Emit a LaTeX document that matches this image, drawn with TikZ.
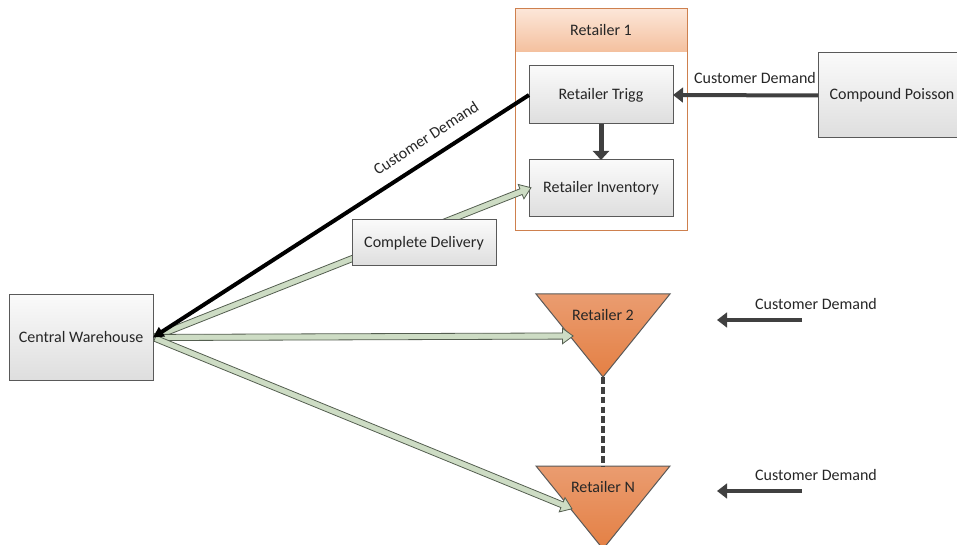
\documentclass[tikz,border=0pt]{standalone}
\usepackage{fontspec}
\setmainfont{Carlito}
\usetikzlibrary{arrows.meta,calc,shapes.arrows}

\definecolor{ink}{RGB}{38,38,38}
\definecolor{boxline}{RGB}{89,89,89}
\definecolor{boxtop}{RGB}{250,250,250}
\definecolor{boxbot}{RGB}{222,222,222}
\definecolor{dark}{RGB}{64,64,64}
\definecolor{retline}{RGB}{206,128,78}
\definecolor{hdrtop}{RGB}{252,230,216}
\definecolor{hdrbot}{RGB}{244,192,158}
\definecolor{trtop}{RGB}{234,156,112}
\definecolor{trbot}{RGB}{228,128,68}
\definecolor{delivfill}{RGB}{205,220,196}
\definecolor{delivline}{RGB}{84,94,80}

% hollow delivery arrow drawn as a rotated single-arrow shape from #1 to #2
\newcommand\delivery[2]{%
  \path let \p1=($(#2)-(#1)$), \n1={atan2(\y1,\x1)}, \n2={veclen(\x1,\y1)} in
    node[delivarrow, rotate=\n1, minimum height=\n2] at ($(#1)!0.5!(#2)$) {};}

\begin{document}
\begin{tikzpicture}[x=0.75pt,y=-0.75pt,
  font=\fontsize{12}{14}\selectfont, text=ink,
  box/.style={draw=boxline, line width=0.75pt, top color=boxtop, bottom color=boxbot,
    minimum width=108pt, inner sep=0pt, outer sep=0pt, align=center},
  flow/.style={draw=dark, line width=3pt, -{Triangle[length=7.5pt,width=11pt]}},
  retailer/.style={draw=boxline, line width=0.75pt, top color=trtop, bottom color=trbot},
  delivarrow/.style={single arrow, draw=delivline, line width=0.6pt, fill=delivfill,
    inner xsep=0pt, inner ysep=2pt, single arrow head extend=3.5pt,
    single arrow tip angle=72, outer sep=0pt},
  lbl/.style={inner sep=0pt}]

\clip (0,0) rectangle (957,545);

% Retailer 1 group
\node[top color=hdrtop, bottom color=hdrbot, minimum width=129pt, minimum height=32.25pt,
  inner sep=0pt, outer sep=0pt] (r1head) at (601,30.5) {Retailer 1};
\node[draw=retline, line width=0.75pt, minimum width=129pt, minimum height=166.5pt,
  outer sep=0pt] (r1) at (601,120) {};
\node[box, minimum height=43.5pt] (trigg) at (601,95) {Retailer Trigg};
\node[box, minimum height=42.75pt] (inv) at (601,188.5) {Retailer Inventory};
\draw[draw=dark, line width=3.75pt, -{Triangle[length=6.75pt,width=12pt]}] (trigg.south) -- (inv.north);

% demand source
\node[box, minimum width=111pt, minimum height=63.75pt] (cp) at (892,95.5) {Compound Poisson};
\draw[flow] (cp.west) -- (trigg.east);
\node[lbl] (cdp) at (755,78) {Customer Demand};

% central warehouse
\node[box, minimum height=63.75pt] (cw) at (81,337.5) {Central Warehouse};

% retailers 2 .. N
\draw[retailer] (536,294) -- (670,294) -- (603,377) coordinate (r2apex) -- cycle;
\node[lbl] (r2) at (603,315) {Retailer 2};
\draw[retailer] (536,466) coordinate (rNtl) -- (670,466) -- (603,549) -- cycle;
\node[lbl] (rN) at (603,487) {Retailer N};
\coordinate (rNtop) at (603,466);
\coordinate (r2in) at (571,336);
\coordinate (rNin) at (570,508);
\draw[draw=dark, line width=3pt, dash pattern=on 5pt off 2.4pt] (r2apex) -- (rNtop);

% demand inputs of retailers 2 .. N
\coordinate (d2s) at (802,320);
\coordinate (d2e) at (717,320);
\coordinate (dNs) at (802,491);
\coordinate (dNe) at (717,491);
\draw[flow] (d2s) -- (d2e);
\draw[flow] (dNs) -- (dNe);
\node[lbl] (cd2) at (816,304) {Customer Demand};
\node[lbl] (cdN) at (816,475) {Customer Demand};

% deliveries from the warehouse
\delivery{cw.east}{inv.west}
\delivery{cw.east}{r2in}
\delivery{cw.east}{rNin}
\node[box, minimum height=34.5pt] (cd) at (424,243) {Complete Delivery};

% orders sent to the warehouse
\draw[black, line width=3pt, -{Triangle[length=8pt,width=8pt]}] (trigg.west) -- (cw.east);
\node[lbl, rotate=33] (cdw) at (426,138) {Customer Demand};
\end{tikzpicture}
\end{document}
